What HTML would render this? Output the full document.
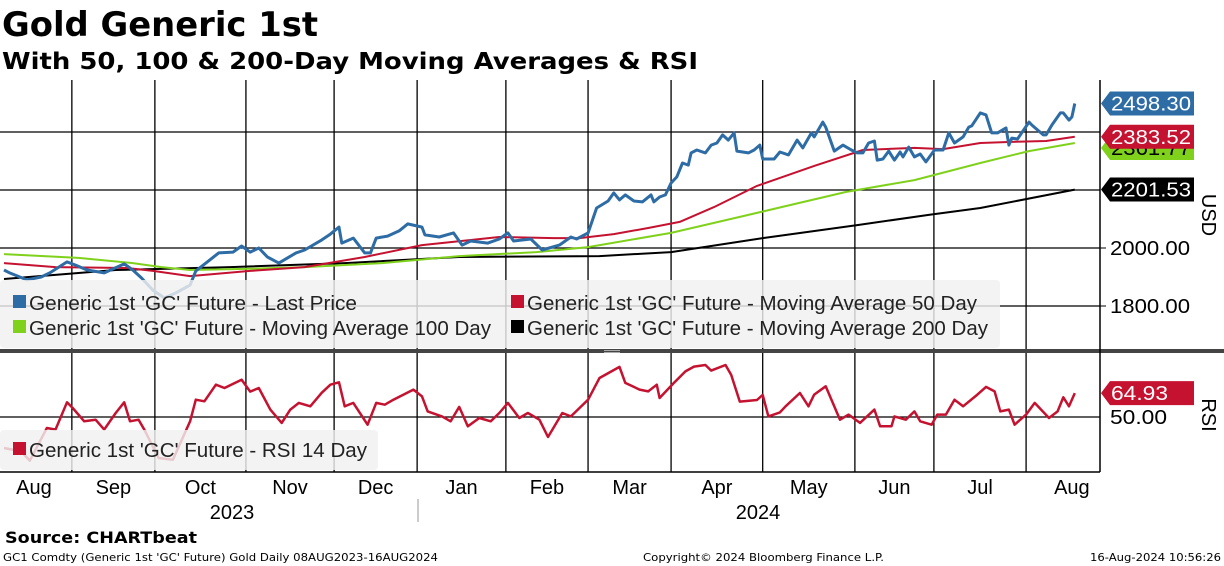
<!DOCTYPE html>
<html><head><meta charset="utf-8"><style>
body{margin:0;background:#fff;}
svg{display:block;font-family:"Liberation Sans",sans-serif;}
</style></head><body>
<svg id="chart" width="1224" height="566" viewBox="0 0 1224 566" xmlns="http://www.w3.org/2000/svg">
<text x="2" y="36" font-family="DejaVu Sans" font-weight="bold" font-size="34" textLength="316" lengthAdjust="spacingAndGlyphs">Gold Generic 1st</text>
<text x="2" y="69" font-family="DejaVu Sans" font-weight="bold" font-size="23" textLength="696" lengthAdjust="spacingAndGlyphs">With 50, 100 &amp; 200-Day Moving Averages &amp; RSI</text>
<g id="grid"></g>
<defs>
<clipPath id="pc"><rect x="0" y="80" width="1100" height="269"/></clipPath>
<clipPath id="rc"><rect x="0" y="354" width="1100" height="118"/></clipPath>
</defs>
<g id="series" clip-path="url(#pc)"></g>
<g id="rsiseries" clip-path="url(#rc)"></g>
<rect x="0" y="280" width="1000" height="68" rx="4" fill="rgba(240,240,240,0.82)"/>
<g font-size="20" fill="#222">
<rect x="13" y="295" width="13" height="13" fill="#2e6ca5"/>
<text x="29" y="310" textLength="328" lengthAdjust="spacingAndGlyphs">Generic 1st 'GC' Future - Last Price</text>
<rect x="511" y="295" width="13" height="13" fill="#c41230"/>
<text x="527" y="310" textLength="450" lengthAdjust="spacingAndGlyphs">Generic 1st 'GC' Future - Moving Average 50 Day</text>
<rect x="13" y="320" width="13" height="13" fill="#7fd11b"/>
<text x="29" y="335" textLength="462" lengthAdjust="spacingAndGlyphs">Generic 1st 'GC' Future - Moving Average 100 Day</text>
<rect x="511" y="320" width="13" height="13" fill="#000"/>
<text x="527" y="335" textLength="461" lengthAdjust="spacingAndGlyphs">Generic 1st 'GC' Future - Moving Average 200 Day</text>
</g>
<rect x="0" y="430" width="378" height="40" rx="4" fill="rgba(240,240,240,0.82)"/>
<rect x="13" y="442" width="13" height="13" fill="#c41230"/>
<text x="29" y="457" font-size="20" fill="#222" textLength="338" lengthAdjust="spacingAndGlyphs">Generic 1st 'GC' Future - RSI 14 Day</text>
<rect x="0" y="349" width="1224" height="4" fill="#444"/>
<rect x="604" y="350" width="16" height="1" fill="#aaa"/>
<rect x="604" y="352" width="16" height="1" fill="#aaa"/>
<line x1="1100" y1="80" x2="1100" y2="472" stroke="#000" stroke-width="1.5"/>
<line x1="0" y1="472" x2="1100" y2="472" stroke="#000" stroke-width="1.5"/>
<g id="yticks" font-size="20"></g>
<text transform="translate(1202,215) rotate(90)" font-size="20" text-anchor="middle">USD</text>
<text transform="translate(1202,415) rotate(90)" font-size="20" text-anchor="middle">RSI</text>
<g id="tags" font-size="20"></g>
<g id="xlabels" font-size="20" text-anchor="middle"></g>
<text x="232" y="519" font-size="20" text-anchor="middle">2023</text>
<text x="758" y="519" font-size="20" text-anchor="middle">2024</text>
<line x1="418" y1="499" x2="418" y2="522" stroke="#999"/>
<text x="5" y="543" font-family="DejaVu Sans" font-weight="bold" font-size="16" textLength="192" lengthAdjust="spacingAndGlyphs">Source: CHARTbeat</text>
<text x="3" y="561" font-family="DejaVu Sans" font-size="11" textLength="435" lengthAdjust="spacingAndGlyphs">GC1 Comdty (Generic 1st 'GC' Future) Gold  Daily 08AUG2023-16AUG2024</text>
<text x="643" y="561" font-family="DejaVu Sans" font-size="11" textLength="241" lengthAdjust="spacingAndGlyphs">Copyright© 2024 Bloomberg Finance L.P.</text>
<text x="1090" y="561" font-family="DejaVu Sans" font-size="11" textLength="131" lengthAdjust="spacingAndGlyphs">16-Aug-2024 10:56:26</text>
</svg>
<script>
// days since 08-Aug-2023 (chart scale)
const priceDays=[0,2,8,13,16,22,25,29,35,42,45,48,52,56,60,65,67,71,75,80,83,86,89,92,96,102,105,111,114,117,118,122,126,128,130,134,138,141,146,147,152,157,160,163,169,173,176,178,184,188,194,198,200,204,207,211,213,215,217,220,223,226,227,229,231,233,235,237,239,240,242,245,247,249,251,253,255,256,260,262,264,265,269,271,274,277,279,282,283,286,287,290,293,296,298,300,302,304,305,307,309,311,313,314,316,318,320,322,325,328,330,332,335,337,338,341,343,345,347,350,351,352,354,358,359,363,364,366,369,370,372,373,374];
const priceVals=[1924,1914,1890,1900,1914,1952,1941,1924,1914,1945,1924,1897,1855,1828,1845,1872,1921,1952,1983,1986,2007,1986,2000,1969,1948,1983,1993,2028,2048,2072,2017,2034,1983,1983,2034,2041,2059,2083,2072,2045,2038,2052,2010,2024,2017,2031,2052,2024,2031,1993,2010,2038,2031,2052,2138,2162,2190,2166,2183,2162,2159,2183,2159,2176,2183,2224,2245,2293,2286,2328,2338,2328,2355,2362,2390,2372,2397,2334,2328,2338,2355,2307,2307,2331,2321,2372,2345,2397,2383,2434,2417,2334,2355,2338,2328,2328,2362,2369,2303,2307,2334,2303,2331,2314,2348,2314,2324,2297,2338,2338,2397,2362,2383,2417,2421,2466,2459,2397,2397,2414,2355,2379,2376,2434,2424,2390,2390,2424,2466,2466,2441,2452,2498.3];
const ma50Days=[0,18,43,52,65,86,105,126,146,173,192,201,213,225,236,248,263,283,300,318,328,341,352,364,374];
const ma50Vals=[1948,1934,1931,1921,1903,1921,1934,1969,2010,2038,2034,2034,2048,2069,2090,2141,2214,2283,2338,2345,2341,2362,2366,2369,2383.52];
const ma100Days=[0,26,45,55,65,84,105,132,159,186,204,233,260,294,318,341,358,374];
const ma100Vals=[1979,1966,1948,1934,1924,1928,1934,1948,1972,1986,2003,2052,2114,2193,2234,2293,2334,2362];
const ma200Days=[0,39,79,119,159,208,233,265,298,323,341,374];
const ma200Vals=[1893,1924,1934,1948,1969,1972,1986,2034,2079,2114,2138,2201.53];
const rsiDays=[0,6,9,15,18,22,24,28,32,35,39,42,44,47,49,54,59,65,67,70,74,77,83,86,89,93,97,100,103,107,111,114,117,119,122,127,130,133,136,143,146,148,153,156,159,162,166,170,173,176,180,183,187,190,195,198,201,204,208,215,217,222,225,228,229,234,238,241,245,247,252,254,257,263,265,267,271,273,278,281,283,287,292,295,299,304,306,310,311,315,318,320,324,326,329,332,335,340,343,346,348,351,353,357,360,365,368,370,372,374];
const rsiVals=[30.6,28.5,22.7,43.1,42.1,59.2,55.6,47.3,48.3,42.1,52.5,59.2,47.3,48.3,42.1,24.4,23.3,47.3,60.8,59.8,70.2,68.1,73.3,65.9,68.1,54.6,46.3,54.6,58.8,56.7,65.2,70.2,71.7,56.7,58.8,45.2,58.8,57.7,60.8,67.1,62.9,53.5,50.4,47.3,56.3,44.2,49.4,47.3,52.5,58.8,49.4,52.5,48.3,37.5,52.5,50.4,55.6,60.8,74.4,81.3,71.3,67.1,66.0,70.2,61.9,71.3,78.5,81.5,82.5,79.0,82.5,76.3,59.6,60.6,63.8,50.4,52.9,56.7,65.0,56.7,64.0,69.2,48.3,51.5,46.3,54.6,44.2,44.2,50.4,48.3,53.5,47.3,45.2,51.5,51.5,60.8,56.7,64.0,68.8,66.0,53.5,54.6,45.2,51.5,58.8,49.4,53.5,62.3,56.7,64.93];
const priceTicks=[1800,2000,2200,2400];
const priceTickLabels=["1800.00","2000.00"];
const monthLabels=["Aug","Sep","Oct","Nov","Dec","Jan","Feb","Mar","Apr","May","Jun","Jul","Aug"];
const monthStartDays=[-7,23.7,52.7,84.5,115.3,144.3,175.3,204,233,265,297.2,324.8,357];
const tagLabels=["2498.30","2383.52","2361.77","2201.53"];

const NS="http://www.w3.org/2000/svg";
const xd=d=>4+d*2.863;
const yp=p=>248-(p-2000)*0.29;
const yr=r=>417-(r-50)*1.6;
function mk(tag,attrs,parent){const e=document.createElementNS(NS,tag);for(const k in attrs)e.setAttribute(k,attrs[k]);parent.appendChild(e);return e;}
const grid=document.getElementById('grid');
for(let i=1;i<monthStartDays.length;i++){
  const x=xd(monthStartDays[i]);
  const l1=mk('line',{x1:x,y1:80,x2:x,y2:349,stroke:'#000','stroke-width':1.3},grid);
  
  
  const l2=mk('line',{x1:x,y1:353,x2:x,y2:472,stroke:'#000','stroke-width':1.3},grid);
  
  
}
priceTicks.forEach(p=>{
  const l=mk('line',{x1:0,y1:yp(p),x2:1100,y2:yp(p),stroke:'#000','stroke-width':1.3},grid);
  
  
});
const rl=mk('line',{x1:0,y1:yr(50),x2:1100,y2:yr(50),stroke:'#000','stroke-width':1.3},grid);



function pathOf(days,vals,yf){return days.map((d,i)=>(i?'L':'M')+xd(d).toFixed(1)+','+yf(vals[i]).toFixed(1)).join('');}
const ser=document.getElementById('series');
const lines=[[ma200Days,ma200Vals,'#000',2,'ma200-line'],[ma100Days,ma100Vals,'#7fd11b',2,'ma100-line'],[ma50Days,ma50Vals,'#c41230',2,'ma50-line'],[priceDays,priceVals,'#2e6ca5',3,'last-price-line']];
lines.forEach(s=>{
  const p=mk('path',{d:pathOf(s[0],s[1],yp),fill:'none',stroke:s[2],'stroke-width':s[3],'stroke-linejoin':'round'},ser);
  
  
});
const rp=mk('path',{d:pathOf(rsiDays,rsiVals,yr),fill:'none',stroke:'#c41230','stroke-width':2.5,'stroke-linejoin':'round'},document.getElementById('rsiseries'));



const yt=document.getElementById('yticks');
[1800,2000].forEach((p,i)=>{
  const t=mk('text',{x:1110,y:yp(p)+7,textLength:80,lengthAdjust:'spacingAndGlyphs'},yt);t.textContent=priceTickLabels[i];
  
  
  const tk=mk('line',{x1:1100,y1:yp(p),x2:1106,y2:yp(p),stroke:'#000'},yt);
  
  
});
const r50=mk('text',{x:1110,y:yr(50)+7,textLength:57,lengthAdjust:'spacingAndGlyphs'},yt);r50.textContent="50.00";



const tags=document.getElementById('tags');
function tag(y,label,bg,fg,name){
  const g=mk('g',{},tags);
  
  
  mk('path',{d:`M1101,${y} L1110,${y-12} L1194,${y-12} L1194,${y+12} L1110,${y+12} Z`,fill:bg},g);
  const t=mk('text',{x:1111,y:y+7,fill:fg,textLength:label.length>5?80:57,lengthAdjust:'spacingAndGlyphs'},g);t.textContent=label;
}
tag(yp(ma100Vals[ma100Vals.length-1])+5,tagLabels[2],'#7fd11b','#000','tag-ma100');
tag(yp(priceVals[priceVals.length-1]),tagLabels[0],'#2e6ca5','#fff','tag-last-price');
tag(yp(ma50Vals[ma50Vals.length-1]),tagLabels[1],'#c41230','#fff','tag-ma50');
tag(yp(ma200Vals[ma200Vals.length-1]),tagLabels[3],'#000','#fff','tag-ma200');
tag(yr(rsiVals[rsiVals.length-1]),rsiVals[rsiVals.length-1].toFixed(2),'#c41230','#fff','tag-rsi');

const xl=document.getElementById('xlabels');
monthLabels.forEach((m,i)=>{
  const a=Math.max(0,monthStartDays[i]), b=i+1<monthStartDays.length?monthStartDays[i+1]:389;
  const t=mk('text',{x:xd((a+b)/2)+(i==0?-4:0),y:494},xl);t.textContent=m;
  
  
});
</script>
</body></html>
